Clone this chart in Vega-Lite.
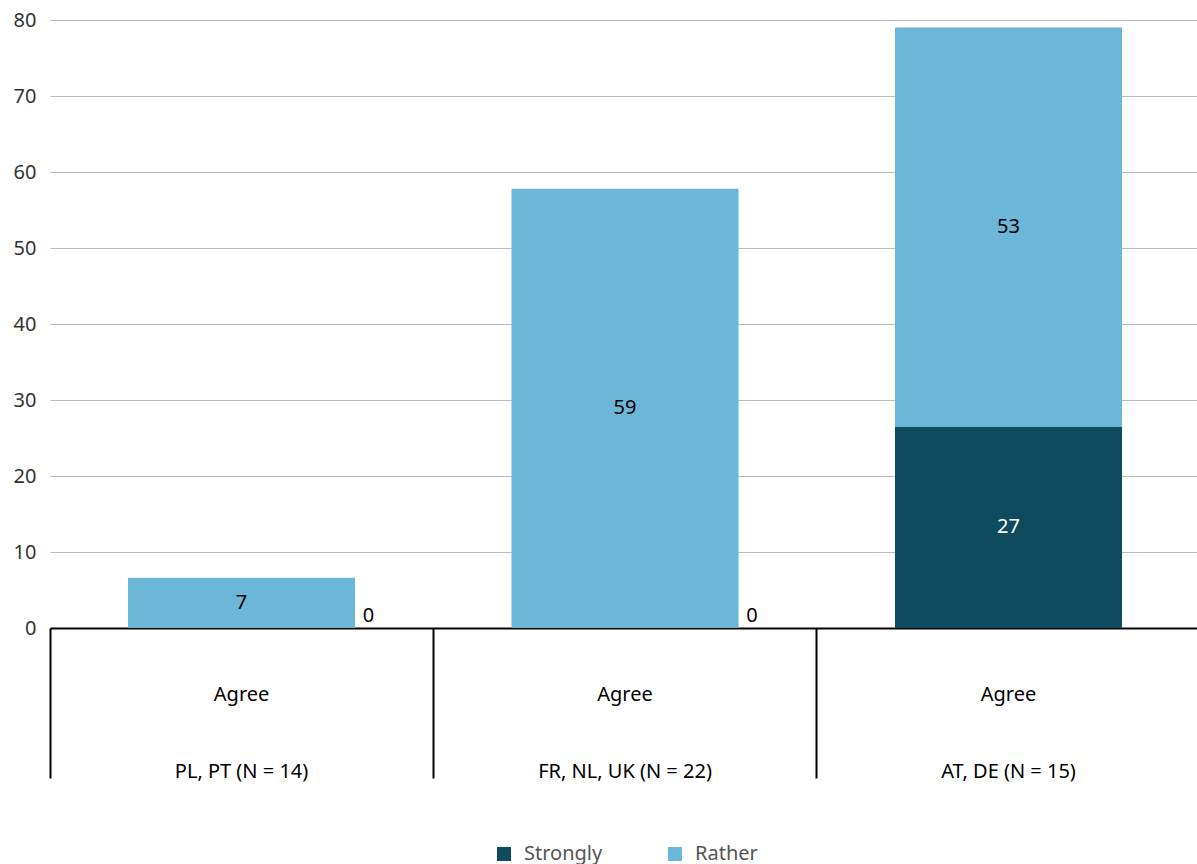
{
  "$schema": "https://vega.github.io/schema/vega-lite/v6.json",
  "width": 1147,
  "height": 608,
  "autosize": {"type": "none"},
  "padding": {"left": 50, "top": 20, "right": 0, "bottom": 236},
  "background": "white",
  "config": {
    "view": {"stroke": null},
    "font": "Noto Sans"
  },
  "title": {
    "text": "Relative proportion (%)",
    "anchor": "start",
    "frame": "group",
    "orient": "top",
    "baseline": "alphabetic",
    "offset": 21,
    "dx": -40,
    "fontSize": 22,
    "fontWeight": "normal",
    "color": "#C8103E"
  },
  "data": {
    "values": [
      {"group": "PL, PT (N = 14)", "type": "Strongly", "value": 0, "label": "0"},
      {"group": "PL, PT (N = 14)", "type": "Rather", "value": 6.6, "label": "7"},
      {"group": "FR, NL, UK (N = 22)", "type": "Strongly", "value": 0, "label": "0"},
      {"group": "FR, NL, UK (N = 22)", "type": "Rather", "value": 57.8, "label": "59"},
      {"group": "AT, DE (N = 15)", "type": "Strongly", "value": 26.5, "label": "27"},
      {"group": "AT, DE (N = 15)", "type": "Rather", "value": 52.5, "label": "53"}
    ]
  },
  "encoding": {
    "x": {
      "field": "group",
      "type": "nominal",
      "sort": null,
      "scale": {"paddingInner": 0.408, "paddingOuter": 0.1995, "align": 0.51},
      "axis": {
        "title": null,
        "labelAngle": 0,
        "labelExpr": "['Agree', datum.label]",
        "labelLineHeight": 77,
        "labelFontSize": 20,
        "labelColor": "black",
        "labelBaseline": "top",
        "labelPadding": -94,
        "bandPosition": -0.3436,
        "ticks": true,
        "tickSize": 150,
        "tickWidth": 2,
        "tickColor": "black",
        "domainColor": "black",
        "domainWidth": 2,
        "grid": false
      }
    }
  },
  "layer": [
    {
      "mark": {"type": "bar"},
      "encoding": {
        "y": {
          "field": "value",
          "type": "quantitative",
          "stack": "zero",
          "scale": {"domain": [0, 80], "nice": false},
          "axis": {
            "title": null,
            "values": [0, 10, 20, 30, 40, 50, 60, 70, 80],
            "domain": false,
            "ticks": false,
            "grid": true,
            "gridColor": "#bbbbbb",
            "gridWidth": 1,
            "labelFontSize": 20,
            "labelColor": "#333333",
            "labelPadding": 14
          }
        },
        "color": {
          "field": "type",
          "type": "nominal",
          "scale": {"domain": ["Strongly", "Rather"], "range": ["#0F4B5E", "#6CB6D8"]},
          "legend": {
            "title": null,
            "orient": "none",
            "legendX": 444,
            "legendY": 824,
            "direction": "horizontal",
            "symbolType": "square",
            "symbolSize": 196,
            "symbolStrokeWidth": 0,
            "labelFontSize": 20,
            "labelColor": "#555555",
            "labelOffset": 10,
            "columnPadding": 62
          }
        },
        "order": {"field": "type", "sort": "descending"}
      }
    },
    {
      "transform": [{"filter": "datum.value > 0"}],
      "mark": {"type": "text", "fontSize": 20, "baseline": "middle"},
      "encoding": {
        "y": {"field": "value", "type": "quantitative", "stack": "zero", "bandPosition": 0.5},
        "detail": {"field": "type"},
        "order": {"field": "type", "sort": "descending"},
        "text": {"field": "label"},
        "color": {
          "condition": {"test": "datum.type === 'Strongly'", "value": "white"},
          "value": "black"
        }
      }
    },
    {
      "transform": [{"filter": "datum.value == 0"}],
      "mark": {"type": "text", "fontSize": 20, "baseline": "bottom", "dx": 127, "dy": -2, "color": "black"},
      "encoding": {
        "y": {"field": "value", "type": "quantitative"},
        "text": {"field": "label"}
      }
    }
  ]
}
